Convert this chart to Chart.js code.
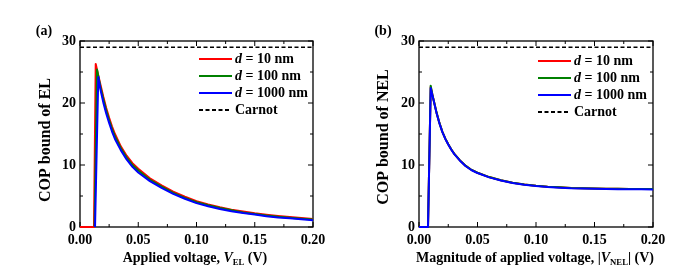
<!DOCTYPE html>
<html>
<head>
<meta charset="utf-8">
<script src="https://cdn.jsdelivr.net/npm/chart.js@4.4.1/dist/chart.umd.min.js"></script>
<style>
body { margin: 0; background: #fff; }
.panel { position: absolute; top: 0; height: 277px; }
</style>
</head>
<body>
<div class="panel" style="left:0;width:348px"><canvas id="elChart" width="348" height="277"></canvas></div>
<div class="panel" style="left:348px;width:349px"><canvas id="nelChart" width="349" height="277"></canvas></div>
<script>
// (a) EL panel
const elRedV = [0, 0.0120, 0.0135, 0.015, 0.0175, 0.02, 0.0225, 0.025, 0.0275, 0.03, 0.035, 0.04, 0.045, 0.05, 0.06, 0.07, 0.08, 0.09, 0.10, 0.11, 0.12, 0.13, 0.14, 0.15, 0.16, 0.17, 0.18, 0.19, 0.20];
const elRed = [0, 0, 26.3, 25.0, 23.0, 21.0, 19.2, 17.6, 16.2, 15.0, 13.0, 11.5, 10.3, 9.4, 7.85, 6.7, 5.7, 4.9, 4.15, 3.65, 3.2, 2.8, 2.5, 2.2, 1.97, 1.77, 1.6, 1.45, 1.3];
const elGreenV = [0.0125, 0.0146, 0.0175, 0.02, 0.0225, 0.025, 0.0275, 0.03, 0.035, 0.04, 0.045, 0.05, 0.06, 0.07, 0.08, 0.09, 0.10, 0.11, 0.12, 0.13, 0.14, 0.15, 0.16, 0.17, 0.18, 0.19, 0.20];
const elGreen = [0, 25.4, 22.6, 20.6, 18.8, 17.2, 15.8, 14.6, 12.7, 11.2, 10.0, 9.1, 7.6, 6.5, 5.5, 4.7, 4.0, 3.5, 3.05, 2.7, 2.35, 2.1, 1.85, 1.65, 1.5, 1.35, 1.2];
const elBlueV = [0.0129, 0.0157, 0.0175, 0.02, 0.0225, 0.025, 0.0275, 0.03, 0.035, 0.04, 0.045, 0.05, 0.06, 0.07, 0.08, 0.09, 0.10, 0.11, 0.12, 0.13, 0.14, 0.15, 0.16, 0.17, 0.18, 0.19, 0.20];
const elBlue = [0, 24.2, 22.2, 20.1, 18.3, 16.8, 15.4, 14.2, 12.4, 10.9, 9.7, 8.8, 7.4, 6.3, 5.35, 4.55, 3.85, 3.35, 2.9, 2.55, 2.25, 2.0, 1.75, 1.55, 1.4, 1.25, 1.1];

// (b) NEL panel
const nelV = [0, 0.0077, 0.0100, 0.0115, 0.0125, 0.015, 0.0175, 0.02, 0.0225, 0.025, 0.0275, 0.03, 0.035, 0.04, 0.045, 0.05, 0.06, 0.07, 0.08, 0.09, 0.10, 0.11, 0.12, 0.13, 0.14, 0.15, 0.16, 0.17, 0.18, 0.19, 0.20];
const nelRed = [0, 0, 22.6, 21.3, 20.5, 18.45, 16.75, 15.35, 14.25, 13.35, 12.55, 11.85, 10.75, 9.85, 9.2, 8.75, 8.05, 7.55, 7.15, 6.85, 6.65, 6.5, 6.4, 6.3, 6.25, 6.2, 6.17, 6.15, 6.13, 6.12, 6.11];
const nelGreen = [0, 0, 22.8, 21.3, 20.5, 18.45, 16.75, 15.35, 14.25, 13.35, 12.55, 11.85, 10.75, 9.85, 9.2, 8.75, 8.05, 7.55, 7.15, 6.85, 6.65, 6.5, 6.4, 6.3, 6.25, 6.2, 6.17, 6.15, 6.13, 6.12, 6.11];
const nelBlue = [0, 0, 22.4, 21.2, 20.4, 18.4, 16.7, 15.3, 14.2, 13.3, 12.5, 11.8, 10.7, 9.8, 9.15, 8.7, 8.0, 7.5, 7.1, 6.8, 6.6, 6.45, 6.35, 6.25, 6.2, 6.15, 6.12, 6.1, 6.08, 6.07, 6.06];

const carnotV = [0, 0.2];
const carnot = [29, 29];
const legendLabels = ['10 nm', '100 nm', '1000 nm', 'Carnot'];
const xTicks = [0, 0.05, 0.10, 0.15, 0.20];
const yTicks = [0, 10, 20, 30];

const SERIF = '"Liberation Serif", "Times New Roman", serif';
const RED = '#ff0000', GREEN = '#008000', BLUE = '#0000ff';

const pts = (xs, ys) => xs.map((x, i) => ({ x: x, y: ys[i] }));

function line(label, data, color, order) {
  return { label: label, data: data, borderColor: color, borderWidth: 2, pointRadius: 0,
           borderJoinStyle: 'round', tension: 0, clip: false, order: order };
}

function drawRich(ctx, parts, cx, cy, size) {
  const fontOf = p => (p.italic ? 'italic ' : '') + 'bold ' + (p.sub ? size * 0.62 : size) + 'px ' + SERIF;
  let total = 0;
  parts.forEach(p => { ctx.font = fontOf(p); total += ctx.measureText(p.t).width; });
  let x = cx - total / 2;
  ctx.textAlign = 'left';
  ctx.textBaseline = 'alphabetic';
  parts.forEach(p => {
    ctx.font = fontOf(p);
    ctx.fillText(p.t, x, cy + (p.sub ? 3 : 0));
    x += ctx.measureText(p.t).width;
  });
}

function decorations(cfg) {
  return {
    id: 'decorations',
    beforeDatasetsDraw(chart) {
      const { ctx, chartArea: a, scales: { x, y } } = chart;
      ctx.save();
      ctx.strokeStyle = '#000';
      ctx.lineWidth = 1.3;
      ctx.strokeRect(a.left, a.top, a.right - a.left, a.bottom - a.top);
      ctx.lineWidth = 1;
      ctx.beginPath();
      for (let i = 0; i <= 8; i++) {
        const px = x.getPixelForValue(i * 0.025), len = i % 2 ? 3 : 5;
        ctx.moveTo(px, a.bottom); ctx.lineTo(px, a.bottom - len);
        ctx.moveTo(px, a.top); ctx.lineTo(px, a.top + len);
      }
      for (let i = 0; i <= 6; i++) {
        const py = y.getPixelForValue(i * 5), len = i % 2 ? 3 : 5;
        ctx.moveTo(a.left, py); ctx.lineTo(a.left + len, py);
        ctx.moveTo(a.right, py); ctx.lineTo(a.right - len, py);
      }
      ctx.stroke();
      ctx.restore();
    },
    afterDraw(chart) {
      const ctx = chart.ctx;
      ctx.save();
      ctx.fillStyle = '#000';
      // panel letter
      ctx.font = 'bold 14px ' + SERIF;
      ctx.textAlign = 'center';
      ctx.textBaseline = 'middle';
      ctx.fillText(cfg.letter, cfg.letterX, 31);
      // y title
      ctx.save();
      ctx.translate(cfg.yTitleX, cfg.yTitleY);
      ctx.rotate(-Math.PI / 2);
      ctx.font = 'bold 16px ' + SERIF;
      ctx.fillText(cfg.yTitle, 0, 0);
      ctx.restore();
      // x title
      drawRich(ctx, cfg.xTitle, cfg.xTitleX, 262, 14);
      // legend
      const colors = [RED, GREEN, BLUE, '#000'];
      legendLabels.forEach((lab, i) => {
        const ry = cfg.legendY + i * 17;
        ctx.strokeStyle = colors[i];
        ctx.lineWidth = 2;
        ctx.setLineDash(i === 3 ? [4, 2.5] : []);
        ctx.beginPath();
        ctx.moveTo(cfg.legendX, ry);
        ctx.lineTo(cfg.legendX + (i === 3 ? 30 : 33), ry);
        ctx.stroke();
        ctx.setLineDash([]);
        ctx.textBaseline = 'middle';
        ctx.textAlign = 'left';
        let tx = cfg.legendX + 36;
        if (i < 3) {
          ctx.font = 'italic bold 14px ' + SERIF;
          ctx.fillText('d', tx, ry);
          tx += ctx.measureText('d').width;
          ctx.font = 'bold 14px ' + SERIF;
          ctx.fillText(' = ' + lab, tx, ry);
        } else {
          ctx.font = 'bold 14px ' + SERIF;
          ctx.fillText(lab, tx, ry);
        }
      });
      ctx.restore();
    }
  };
}

function makeChart(id, datasets, yWidth, padRight, cfg) {
  new Chart(document.getElementById(id), {
    type: 'line',
    data: { datasets: datasets },
    options: {
      responsive: false,
      animation: false,
      layout: { padding: { top: 41, right: padRight, left: 0, bottom: 0 } },
      plugins: { legend: { display: false }, tooltip: { enabled: false } },
      scales: {
        x: {
          type: 'linear', min: 0, max: 0.2,
          afterBuildTicks: s => { s.ticks = xTicks.map(v => ({ value: v })); },
          afterFit: s => { s.height = 50; },
          grid: { display: false, drawTicks: false },
          border: { display: false },
          ticks: { padding: 5, color: '#000', maxRotation: 0, font: { family: SERIF, size: 14, weight: 'bold' },
                   callback: v => v.toFixed(2) }
        },
        y: {
          type: 'linear', min: 0, max: 30,
          afterBuildTicks: s => { s.ticks = yTicks.map(v => ({ value: v })); },
          afterFit: s => { s.width = yWidth; },
          grid: { display: false, drawTicks: false },
          border: { display: false },
          ticks: { padding: 4, color: '#000', font: { family: SERIF, size: 14, weight: 'bold' } }
        }
      }
    },
    plugins: [decorations(cfg)]
  });
}

makeChart('elChart', [
  line('d = 10 nm', pts(elRedV, elRed), RED, 3),
  line('d = 100 nm', pts(elGreenV, elGreen), GREEN, 2),
  line('d = 1000 nm', pts(elBlueV, elBlue), BLUE, 1),
  Object.assign(line('Carnot', pts(carnotV, carnot), '#000', 0), { borderWidth: 1.5, borderDash: [4, 2.5] })
], 80, 35, {
  letter: '(a)', letterX: 44,
  yTitle: 'COP bound of EL', yTitleX: 46, yTitleY: 140,
  xTitle: [{ t: 'Applied voltage, ' }, { t: 'V', italic: true }, { t: 'EL', sub: true }, { t: ' (V)' }],
  xTitleX: 195,
  legendX: 199, legendY: 59
});

makeChart('nelChart', [
  line('d = 10 nm', pts(nelV, nelRed), RED, 3),
  line('d = 100 nm', pts(nelV, nelGreen), GREEN, 2),
  line('d = 1000 nm', pts(nelV, nelBlue), BLUE, 1),
  Object.assign(line('Carnot', pts(carnotV, carnot), '#000', 0), { borderWidth: 1.5, borderDash: [4, 2.5] })
], 71, 44, {
  letter: '(b)', letterX: 35,
  yTitle: 'COP bound of NEL', yTitleX: 36, yTitleY: 137,
  xTitle: [{ t: 'Magnitude of applied voltage, |' }, { t: 'V', italic: true }, { t: 'NEL', sub: true }, { t: '| (V)' }],
  xTitleX: 187,
  legendX: 190, legendY: 61
});
</script>
</body>
</html>
